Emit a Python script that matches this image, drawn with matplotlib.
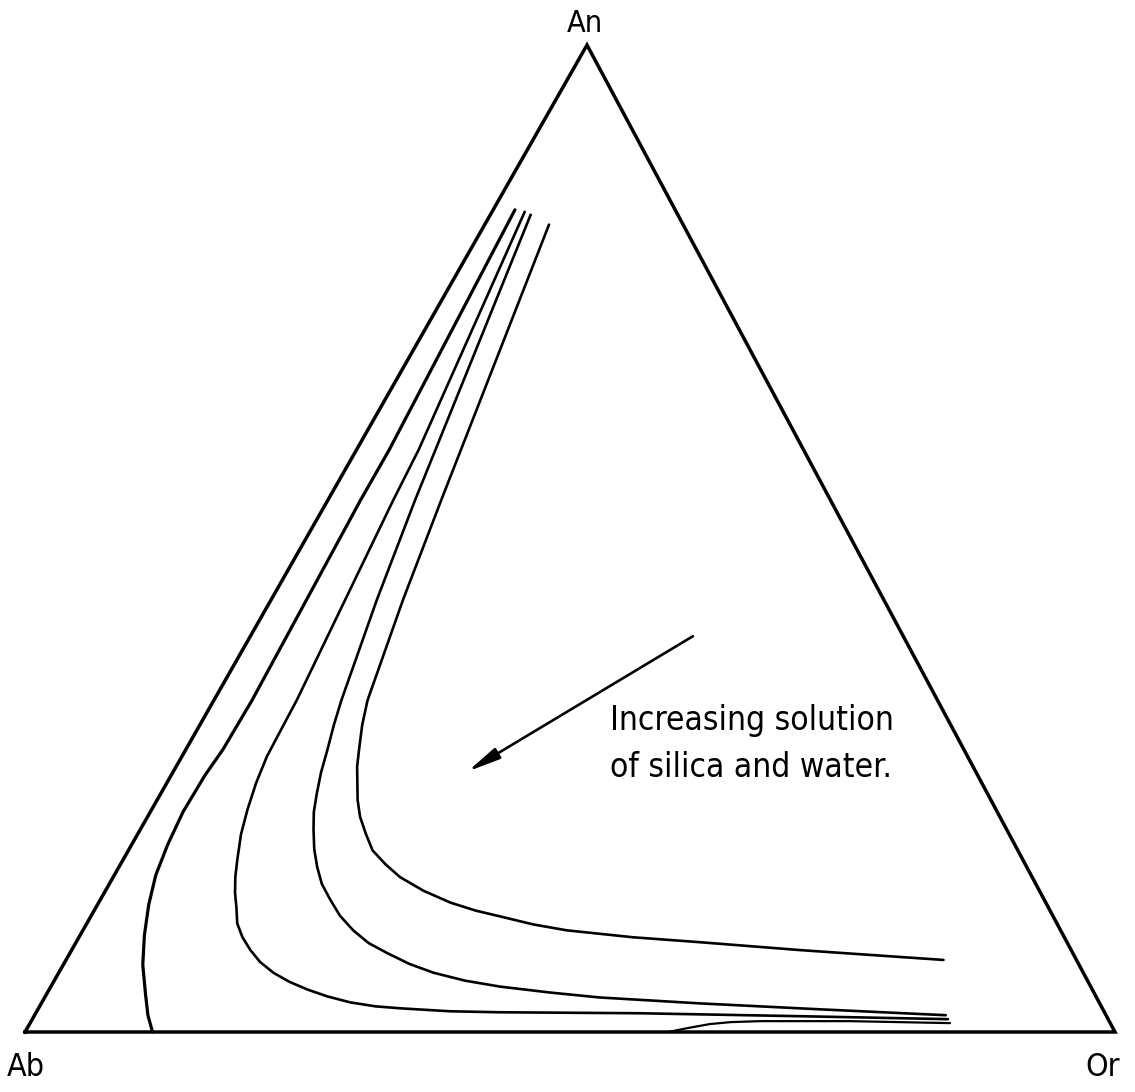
import numpy as np
import matplotlib.pyplot as plt

# triangle corners on the page (pixels)
AB = (25, 1032)
OR = (1115, 1032)
AN = (587, 45)

# curves, as % An and % Or (Ab is the rest)
curve1_an = [83.3, 59.0, 53.9, 33.6, 28.6, 26.0, 22.3, 19.0, 15.9, 12.9, 9.8, 6.8, 3.8, 1.7, 0.0]
curve1_or = [2.0, 3.0, 3.0, 3.5, 3.4, 3.1, 3.0, 3.3, 3.8, 4.7, 5.9, 7.3, 9.1, 10.4, 11.7]

curve2_an = [83.1, 59.0, 53.9, 33.6, 30.6, 27.9, 25.2, 22.5, 20.0, 17.4, 15.7, 14.1, 12.6, 11.0, 9.6,
             8.3, 7.1, 6.0, 5.1, 4.3, 3.6, 3.0, 2.6, 2.4, 2.1, 2.0, 1.9, 1.6, 1.3]
curve2_or = [3.0, 5.7, 6.0, 7.6, 7.7, 7.8, 8.2, 8.8, 9.5, 10.5, 11.2, 12.0, 12.9, 13.8, 15.0,
             16.4, 17.9, 19.7, 21.6, 23.7, 25.9, 28.3, 30.8, 33.2, 37.9, 42.5, 55.4, 70.3, 84.0]

curve3_an = [82.8, 53.9, 43.8, 33.6, 31.1, 28.6, 26.3, 24.2, 22.3, 20.5, 18.5, 16.7, 15.0, 13.4, 11.8,
             10.3, 9.0, 8.0, 6.9, 6.0, 5.2, 4.6, 4.0, 3.5, 2.9, 2.3, 1.7]
curve3_or = [3.7, 8.0, 9.7, 11.7, 12.3, 13.0, 13.6, 14.3, 15.0, 15.9, 17.0, 18.2, 19.5, 21.1, 22.8,
             24.8, 26.9, 29.1, 31.7, 34.4, 37.7, 41.2, 46.1, 50.9, 60.4, 71.7, 83.6]

curve4_an = [81.8, 53.9, 43.8, 33.6, 31.1, 28.6, 26.9, 25.2, 23.5, 21.8, 20.1, 18.4, 17.0, 15.7, 14.3,
             13.1, 12.3, 11.7, 10.9, 10.3, 9.6, 9.1, 8.3, 7.3]
curve4_or = [5.9, 10.4, 12.1, 14.1, 14.9, 15.9, 16.6, 17.5, 18.4, 19.5, 20.9, 22.4, 24.3, 26.3, 29.2,
             32.3, 35.0, 37.6, 41.0, 44.4, 50.8, 57.2, 66.8, 80.5]

curve5_an = [0.0, 0.2, 0.4, 0.8, 1.0, 1.1, 1.1, 0.9]
curve5_or = [59.0, 59.8, 60.6, 62.4, 64.2, 66.9, 75.1, 84.4]

arrow_an = [40.1, 26.4]
arrow_or = [40.6, 27.0]


def tern(an, orr):
    an = np.asarray(an) / 100.0
    orr = np.asarray(orr) / 100.0
    ab = 1 - an - orr
    x = ab * AB[0] + orr * OR[0] + an * AN[0]
    y = ab * AB[1] + orr * OR[1] + an * AN[1]
    return x, y


fig = plt.figure(figsize=(11.35, 10.92), dpi=100)
ax = fig.add_axes([0, 0, 1, 1])
ax.set_xlim(0, 1135)
ax.set_ylim(1092, 0)
ax.axis('off')

# the triangle
tx = [AB[0], OR[0], AN[0], AB[0]]
ty = [AB[1], OR[1], AN[1], AB[1]]
ax.plot(tx, ty, color='black', lw=2.5, solid_joinstyle='miter')

curves = [(curve1_an, curve1_or, 2.3), (curve2_an, curve2_or, 1.9),
          (curve3_an, curve3_or, 1.9), (curve4_an, curve4_or, 1.9),
          (curve5_an, curve5_or, 1.6)]
for an, orr, w in curves:
    x, y = tern(an, orr)
    ax.plot(x, y, color='black', lw=w, solid_capstyle='round', solid_joinstyle='round')

# arrow
ax_, ay_ = tern(arrow_an, arrow_or)
ax.annotate('', xy=(ax_[1], ay_[1]), xytext=(ax_[0], ay_[0]),
            arrowprops=dict(arrowstyle='-|>,head_length=1.1,head_width=0.2',
                            color='black', lw=1.9, mutation_scale=18,
                            shrinkA=0, shrinkB=0))

font = dict(family='DejaVu Sans', fontstretch='condensed', color='black')
ax.text(610, 730, 'Increasing solution', fontsize=24, va='baseline', ha='left', **font)
ax.text(610, 777, 'of silica and water.', fontsize=24, va='baseline', ha='left', **font)

ax.text(585, 23, 'An', fontsize=22, va='center', ha='center', **font)
ax.text(26, 1068, 'Ab', fontsize=23, va='center', ha='center', **font)
ax.text(1103, 1068, 'Or', fontsize=23, va='center', ha='center', **font)

fig.savefig('out.png', dpi=100, facecolor='white')
